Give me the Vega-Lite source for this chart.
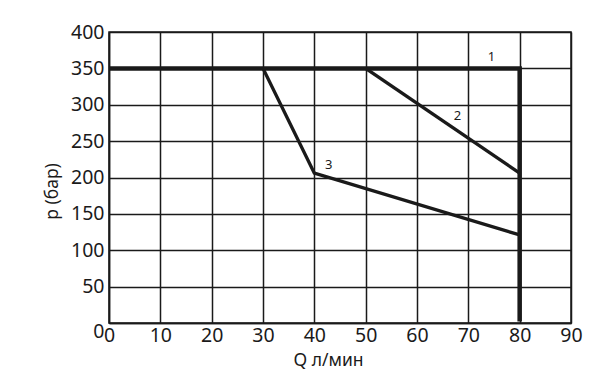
{
  "$schema": "https://vega.github.io/schema/vega-lite/v6.json",
  "autosize": "none",
  "width": 462,
  "height": 291,
  "padding": {"left": 109, "top": 32, "right": 27, "bottom": 66},
  "background": "white",
  "config": {
    "view": {"stroke": "#1a1a1a", "strokeWidth": 1.5},
    "font": "Noto Sans"
  },
  "datasets": {
    "curves": [
      {"curve": "1", "order": 1, "Q": 0, "p": 350},
      {"curve": "1", "order": 2, "Q": 80, "p": 350},
      {"curve": "1", "order": 3, "Q": 80, "p": 2},
      {"curve": "2", "order": 1, "Q": 50, "p": 350},
      {"curve": "2", "order": 2, "Q": 80, "p": 206},
      {"curve": "3", "order": 1, "Q": 30, "p": 350},
      {"curve": "3", "order": 2, "Q": 40, "p": 206},
      {"curve": "3", "order": 3, "Q": 80, "p": 121}
    ],
    "labels": [
      {"label": "1", "Q": 74.5, "p": 366},
      {"label": "2", "Q": 67.9, "p": 284},
      {"label": "3", "Q": 42.8, "p": 217}
    ]
  },
  "encoding": {
    "x": {
      "field": "Q", "type": "quantitative",
      "scale": {"domain": [0, 90], "nice": false},
      "axis": {
        "values": [0, 10, 20, 30, 40, 50, 60, 70, 80, 90],
        "title": "Q л/мин",
        "titleFontSize": 17.5, "titleFontWeight": "normal", "titleColor": "#1a1a1a",
        "titlePadding": 7, "titleX": 219,
        "labelFontSize": 19.5, "labelColor": "#1a1a1a", "labelPadding": 3,
        "labelFlush": false, "labelOverlap": false,
        "ticks": false, "domain": true, "domainColor": "#1a1a1a", "domainWidth": 1.5,
        "grid": true, "gridColor": "#1a1a1a", "gridWidth": 1.5, "gridOpacity": 1
      }
    },
    "y": {
      "field": "p", "type": "quantitative",
      "scale": {"domain": [0, 400], "nice": false},
      "axis": {
        "values": [0, 50, 100, 150, 200, 250, 300, 350, 400],
        "title": "p (бар)",
        "titleFontSize": 17.5, "titleFontWeight": "normal", "titleColor": "#1a1a1a",
        "titlePadding": 9, "titleY": 159,
        "labelFontSize": 19.5, "labelColor": "#1a1a1a", "labelPadding": 5,
        "labelFlush": false, "labelOverlap": false,
        "labelBaseline": {"condition": {"test": "datum.value == 0", "value": "top"}, "value": "middle"},
        "labelOffset": {"condition": {"test": "datum.value == 0", "value": -1}, "value": 0},
        "ticks": false, "domain": true, "domainColor": "#1a1a1a", "domainWidth": 1.5,
        "grid": true, "gridColor": "#1a1a1a", "gridWidth": 1.5, "gridOpacity": 1
      }
    }
  },
  "layer": [
    {
      "data": {"name": "curves"},
      "transform": [{"filter": "datum.curve != '1'"}],
      "mark": {"type": "line", "color": "#1a1a1a", "strokeWidth": 3.4, "clip": false},
      "encoding": {
        "detail": {"field": "curve"},
        "order": {"field": "order"}
      }
    },
    {
      "data": {"name": "curves"},
      "transform": [{"filter": "datum.curve == '1'"}],
      "mark": {"type": "line", "color": "#1a1a1a", "strokeWidth": 4.5, "clip": false, "strokeJoin": "miter"},
      "encoding": {
        "order": {"field": "order"}
      }
    },
    {
      "data": {"name": "labels"},
      "mark": {"type": "text", "fontSize": 13, "color": "#1a1a1a"},
      "encoding": {
        "text": {"field": "label"}
      }
    }
  ]
}
